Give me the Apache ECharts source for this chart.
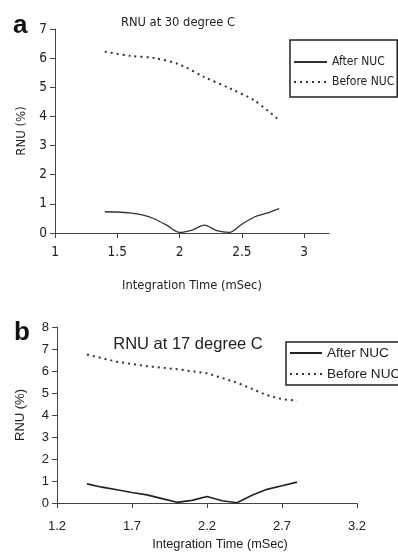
<!DOCTYPE html>
<html><head><meta charset="utf-8">
<script src="https://cdn.jsdelivr.net/npm/echarts@6/dist/echarts.min.js"></script>
<style>html,body{margin:0;padding:0;background:#fff}#c{width:398px;height:552px}</style>
</head><body><div id="c"></div>
<script>
// Panel a (30 degree C)
const timeA = [1.4,1.5,1.6,1.7,1.8,1.9,2.0,2.1,2.2,2.3,2.4,2.5,2.6,2.7,2.8];
const afterA = [0.73,0.72,0.69,0.62,0.48,0.26,0.02,0.1,0.27,0.08,0.02,0.3,0.55,0.68,0.84];
const timeA2 = [1.4,1.6,1.8,2.0,2.2,2.4,2.6,2.8];
const beforeA = [6.22,6.08,6.0,5.78,5.35,4.97,4.55,3.87];
const xTicksA = [1,1.5,2,2.5,3];
// Panel b (17 degree C)
const timeB = [1.4,1.5,1.6,1.7,1.8,1.9,2.0,2.1,2.2,2.3,2.4,2.5,2.6,2.7,2.8];
const afterB = [0.87,0.72,0.6,0.48,0.37,0.2,0.03,0.12,0.3,0.1,0.01,0.35,0.62,0.78,0.95];
const timeB2 = [1.4,1.6,1.8,2.0,2.2,2.4,2.6,2.7,2.8];
const beforeB = [6.75,6.42,6.22,6.08,5.9,5.47,4.9,4.72,4.65];
const xTicksB = [1.2,1.7,2.2,2.7,3.2];

const NARROW = "'DejaVu Sans Condensed','Liberation Sans Narrow',sans-serif";
const SANS = "'Liberation Sans',Arial,sans-serif";
const pair = (xs, ys) => xs.map((x,i)=>[x, ys[i]]);

const chart = echarts.init(document.getElementById('c'), null, {renderer:'canvas'});
const axisCommon = {
  axisLine:{show:true,onZero:false,lineStyle:{color:'#444',width:1}},
  splitLine:{show:false},
};
chart.setOption({
  animation:false,
  backgroundColor:'#fff',
  title:[
    {text:'RNU at 30 degree C',left:173,top:11,textAlign:'center',textStyle:{fontFamily:NARROW,fontSize:12.8,fontWeight:'normal',color:'#222'}},
    {text:'RNU at 17 degree C',left:183,top:331,textAlign:'center',textStyle:{fontFamily:SANS,fontSize:16.5,fontWeight:'normal',color:'#222'}},
    {text:'a',left:8,top:8,textStyle:{fontFamily:SANS,fontSize:26,fontWeight:'bold',color:'#111'}},
    {text:'b',left:9,top:315,textStyle:{fontFamily:SANS,fontSize:26,fontWeight:'bold',color:'#111'}}
  ],
  legend:[
    {data:['After NUC a','Before NUC a'],orient:'vertical',left:290,top:40,
     itemWidth:33,itemHeight:12,itemGap:8,padding:[16,3,9,3],
     borderColor:'#222',borderWidth:1.5,
     itemStyle:{opacity:0},
     formatter:n=>n.replace(/ a$/,''),
     textStyle:{fontFamily:NARROW,fontSize:12,color:'#222'}},
    {data:['After NUC b','Before NUC b'],orient:'vertical',left:286,top:342,
     itemWidth:32,itemHeight:12,itemGap:7,padding:[4,6,4,3],
     borderColor:'#222',borderWidth:1.5,
     itemStyle:{opacity:0},
     formatter:n=>n.replace(/ b$/,''),
     textStyle:{fontFamily:SANS,fontSize:13.6,color:'#222'}}
  ],
  grid:[
    {left:55,top:29,width:274,height:204},
    {left:57,top:327,width:300,height:176}
  ],
  xAxis:[
    Object.assign({},axisCommon,{gridIndex:0,type:'value',min:1,max:3.2,interval:0.5,
      axisTick:{show:true,inside:false,length:5,customValues:xTicksA,lineStyle:{color:'#444'}},
      axisLabel:{customValues:xTicksA,fontFamily:NARROW,fontSize:13.5,color:'#222',margin:12},
      name:'Integration Time (mSec)',nameLocation:'middle',nameGap:46,
      nameTextStyle:{fontFamily:NARROW,fontSize:12.8,color:'#222'}}),
    Object.assign({},axisCommon,{gridIndex:1,type:'value',min:1.2,max:3.2,interval:0.5,
      axisTick:{show:true,inside:false,length:5,customValues:xTicksB,lineStyle:{color:'#444'}},
      axisLabel:{customValues:xTicksB,fontFamily:SANS,fontSize:13,color:'#222',margin:17},
      name:'Integration Time (mSec)',nameLocation:'middle',nameGap:35,
      nameTextStyle:{fontFamily:SANS,fontSize:12.7,color:'#222',padding:[0,0,0,26]}})
  ],
  yAxis:[
    Object.assign({},axisCommon,{gridIndex:0,type:'value',min:0,max:7,interval:1,
      axisTick:{show:true,length:5,lineStyle:{color:'#444'}},
      axisLabel:{fontFamily:NARROW,fontSize:13.5,color:'#222',margin:8},
      name:'RNU (%)',nameLocation:'middle',nameGap:27,
      nameTextStyle:{fontFamily:NARROW,fontSize:13,color:'#222'}}),
    Object.assign({},axisCommon,{gridIndex:1,type:'value',min:0,max:8,interval:1,
      axisTick:{show:true,length:5,lineStyle:{color:'#444'}},
      axisLabel:{fontFamily:SANS,fontSize:13,color:'#222',margin:8},
      name:'RNU (%)',nameLocation:'middle',nameGap:30,
      nameTextStyle:{fontFamily:SANS,fontSize:13,color:'#222'}})
  ],
  series:[
    {name:'After NUC a',type:'line',xAxisIndex:0,yAxisIndex:0,data:pair(timeA,afterA),symbol:'none',smooth:0.3,
     lineStyle:{color:'#333',width:1.3,type:'solid'},itemStyle:{color:'#333'}},
    {name:'Before NUC a',type:'line',xAxisIndex:0,yAxisIndex:0,data:pair(timeA2,beforeA),symbol:'none',smooth:0.3,
     lineStyle:{color:'#333',width:2,type:[2,4]},itemStyle:{color:'#333'}},
    {name:'After NUC b',type:'line',xAxisIndex:1,yAxisIndex:1,data:pair(timeB,afterB),symbol:'none',
     lineStyle:{color:'#222',width:1.6,type:'solid'},itemStyle:{color:'#222'}},
    {name:'Before NUC b',type:'line',xAxisIndex:1,yAxisIndex:1,data:pair(timeB2,beforeB),symbol:'none',
     lineStyle:{color:'#333',width:2,type:[2,4]},itemStyle:{color:'#333'}}
  ]
});
</script></body></html>
